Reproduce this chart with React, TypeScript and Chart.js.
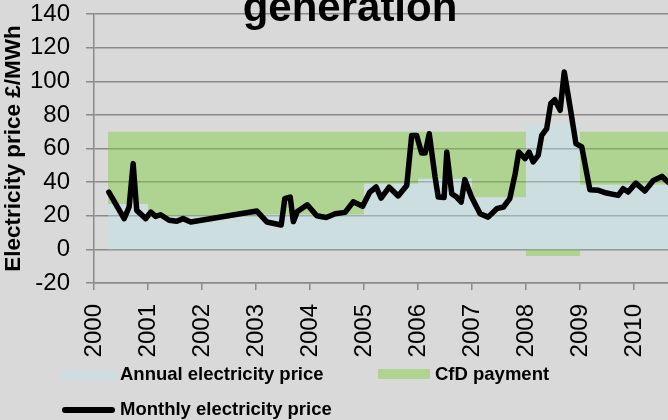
import React, { useEffect, useRef } from 'react';
import { Chart, registerables } from 'chart.js';

Chart.register(...registerables);

const CHART_TITLE = 'generation';
const Y_AXIS_TITLE = 'Electricity price £/MWh';

const YEAR_TICKS = [2000, 2001, 2002, 2003, 2004, 2005, 2006, 2007, 2008, 2009, 2010];
const DATA_START_YEAR = 2000.26;
const X_MAX_YEAR = 2010.63;

// Annual electricity price (£/MWh) and CfD payment (£/MWh) per year
const ANNUAL_PRICE = [27, 20, 20, 20.7, 20.7, 39, 42, 31, 74, 38.5, 38.5];
const CFD_PAYMENT = [43, 50, 50, 49.3, 49.3, 31, 28, 39, -4, 31.5, 31.5];

// Monthly electricity price: months since Jan 2000, and price in £/MWh
const MONTH_OFFSETS = [
  3.3, 6.7, 7.8, 8.7, 9.5, 11.5, 12.6, 13.7, 14.8, 16.7, 18.4, 19.8, 21.5, 36.2, 38.4, 41.6, 42.4, 43.6, 44.3, 45.2,
  47.4, 49.5, 51.6, 53.6, 55.8, 57.6, 59.7, 61.3, 62.7, 63.8, 65.6, 67.6, 69.5, 70.6, 71.7, 72.8, 73.6, 74.5, 75.8,
  76.5, 77.8, 78.4, 79.5, 80.6, 81.6, 82.4, 83.9, 85.8, 87.6, 89.5, 91, 92.4, 93.6, 94.4, 95.8, 96.7, 97.6, 98.7,
  99.5, 100.6, 101.5, 102.4, 103.6, 104.5, 105.8, 107.1, 108.4, 110.2, 112.1, 113.9, 116.5, 117.6, 118.7, 120.4,
  122.4, 124.3, 126.2, 127.6, 129,
];
const MONTHLY_PRICE = [
  34.1, 18.3, 25.2, 51, 23.2, 18.3, 22.2, 19.6, 20.6, 17.3, 16.7, 18.3, 16.3, 22.8, 16.3, 14.5, 30.2, 31.1, 16.5, 22.5,
  26.5, 20, 19, 21.2, 22, 28.3, 25.7, 34.1, 37.1, 30.5, 37, 31.8, 38, 67.8, 67.8, 57.3, 57.3, 68.8, 43, 31.1, 30.8,
  57.9, 33.1, 31.1, 28.1, 41.5, 31.1, 21.2, 19.2, 24.2, 25.2, 30.2, 45, 57.9, 54, 57.9, 52, 55.9, 67.8, 71.8, 86.7,
  89, 82.7, 105.5, 84.7, 62.9, 60.9, 35.5, 35.1, 33.5, 32.1, 36.1, 34.1, 39.4, 34.7, 41, 43.4, 40, 37,
];

const BG = '#d9d9d9';
const BLUE = 'rgba(185,230,235,0.4)';
const GREEN = 'rgba(125,207,60,0.45)';
const GRID = '#8a8a8a';
const FONT = '"Liberation Sans", Arial, sans-serif';

function stepPoints(values: number[]) {
  const pts = values.map((v, i) => ({ x: i === 0 ? DATA_START_YEAR : YEAR_TICKS[i], y: v }));
  pts.push({ x: X_MAX_YEAR + 0.5, y: values[values.length - 1] });
  return pts;
}

const decorPlugin = {
  id: 'decor',
  beforeDraw(chart: any) {
    const { ctx, width, height } = chart;
    ctx.save();
    ctx.fillStyle = BG;
    ctx.fillRect(0, 0, width, height);
    ctx.restore();
  },
  afterDraw(chart: any) {
    const { ctx } = chart;
    ctx.save();
    // title
    ctx.fillStyle = '#000';
    ctx.font = `bold 42px ${FONT}`;
    ctx.textAlign = 'center';
    ctx.textBaseline = 'alphabetic';
    ctx.fillText(CHART_TITLE, 350, 21);

    // legend
    const labels = chart.data.datasets;
    ctx.font = `bold 18.5px ${FONT}`;
    ctx.textAlign = 'left';
    ctx.textBaseline = 'middle';
    ctx.fillStyle = BLUE;
    ctx.fillRect(62, 370, 53, 10);
    ctx.fillStyle = '#000';
    ctx.fillText(labels[0].label, 120, 375);
    ctx.fillStyle = GREEN;
    ctx.fillRect(378, 369, 52, 10);
    ctx.fillStyle = '#000';
    ctx.fillText(labels[1].label, 435, 375);
    ctx.strokeStyle = '#000';
    ctx.lineWidth = 6;
    ctx.lineCap = 'round';
    ctx.beginPath();
    ctx.moveTo(65, 410);
    ctx.lineTo(112, 410);
    ctx.stroke();
    ctx.fillText(labels[3].label, 120, 410);
    ctx.restore();
  },
};

export default function App() {
  const canvasRef = useRef<HTMLCanvasElement | null>(null);

  useEffect(() => {
    document.body.style.margin = '0';
    const canvas = canvasRef.current;
    if (!canvas) return;

    const cfdTop = ANNUAL_PRICE.map((a, i) => a + Math.max(CFD_PAYMENT[i], 0));
    const cfdNeg = CFD_PAYMENT.map((c) => Math.min(c, 0));

    const chart = new Chart(canvas, {
      type: 'line',
      data: {
        datasets: [
          {
            label: 'Annual electricity price',
            data: stepPoints(ANNUAL_PRICE),
            stepped: true,
            fill: 'origin',
            backgroundColor: BLUE,
            borderWidth: 0,
            pointRadius: 0,
            order: 1,
          },
          {
            label: 'CfD payment',
            data: stepPoints(cfdTop),
            stepped: true,
            fill: '-1',
            backgroundColor: GREEN,
            borderWidth: 0,
            pointRadius: 0,
            order: 2,
          },
          {
            label: 'CfD payment (negative)',
            data: stepPoints(cfdNeg),
            stepped: true,
            fill: 'origin',
            backgroundColor: GREEN,
            borderWidth: 0,
            pointRadius: 0,
            order: 3,
          },
          {
            label: 'Monthly electricity price',
            data: MONTH_OFFSETS.map((m, i) => ({ x: 2000 + m / 12, y: MONTHLY_PRICE[i] })),
            borderColor: '#000',
            borderWidth: 5.5,
            borderJoinStyle: 'round',
            borderCapStyle: 'round',
            pointRadius: 0,
            tension: 0,
            fill: false,
            order: 0,
          },
        ],
      },
      options: {
        responsive: false,
        animation: false,
        layout: { padding: { top: 14, left: 0, right: 0, bottom: 0 } },
        plugins: {
          legend: { display: false },
          tooltip: { enabled: false },
          title: { display: false },
        },
        scales: {
          x: {
            type: 'linear',
            min: 2000,
            max: X_MAX_YEAR,
            afterBuildTicks: (scale: any) => {
              scale.ticks = YEAR_TICKS.map((v) => ({ value: v }));
            },
            afterFit: (scale: any) => {
              scale.height = 137;
              scale.paddingLeft = 0;
              scale.paddingRight = 0;
            },
            ticks: {
              autoSkip: false,
              minRotation: 90,
              maxRotation: 90,
              padding: 14,
              color: '#000',
              font: { family: FONT, size: 24 },
              callback: (v: any) => String(v),
            },
            grid: { drawOnChartArea: false, drawTicks: true, tickLength: 7, color: GRID, lineWidth: 1.5 },
            border: { color: GRID, width: 1.5 },
          },
          y: {
            min: -20,
            max: 140,
            afterFit: (scale: any) => {
              scale.width = 94;
              scale.paddingTop = 0;
              scale.paddingBottom = 0;
            },
            ticks: {
              stepSize: 20,
              autoSkip: false,
              padding: 16,
              color: '#000',
              font: { family: FONT, size: 24 },
            },
            grid: { color: GRID, lineWidth: 1.5, tickLength: 8 },
            border: { color: GRID, width: 1.5 },
            title: {
              display: true,
              text: Y_AXIS_TITLE,
              color: '#000',
              font: { family: FONT, size: 22.5, weight: 'bold' },
              padding: { top: 0, bottom: 0 },
            },
          },
        },
      },
      plugins: [decorPlugin],
    } as any);

    return () => chart.destroy();
  }, []);

  return <canvas ref={canvasRef} width={668} height={420} style={{ display: 'block' }} />;
}
